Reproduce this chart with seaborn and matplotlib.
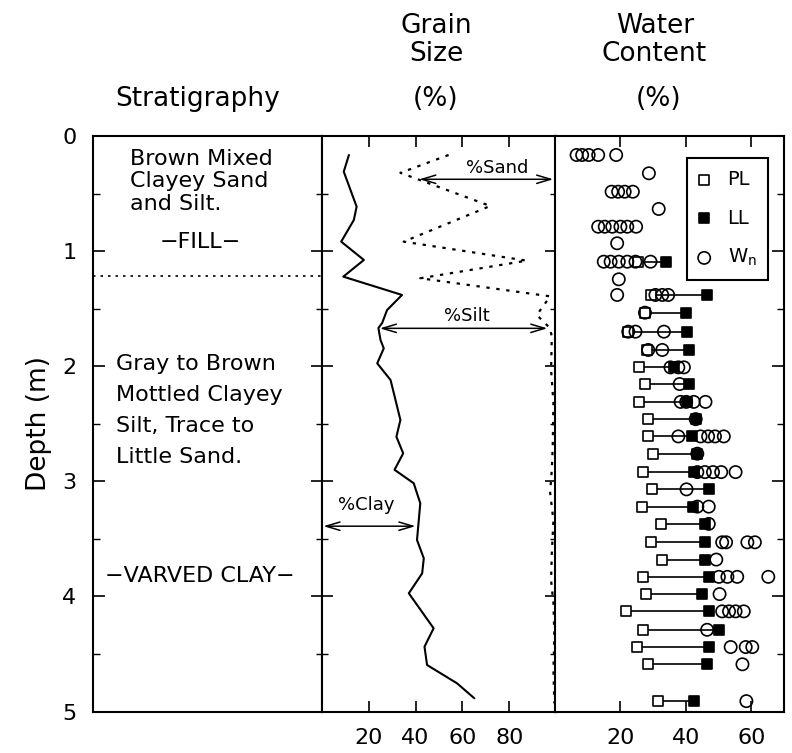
import numpy as np
import pandas as pd
import matplotlib
matplotlib.use("Agg")
import matplotlib.pyplot as plt
import seaborn as sns
from matplotlib.ticker import MultipleLocator

# ---------------- data ----------------
# Grain size: % clay (solid) and cumulative % clay+silt (dotted) versus depth (m)
clay_depth = [0.165, 0.310, 0.614, 0.730, 0.918, 1.077, 1.222, 1.381, 1.512, 1.625,
              1.668, 1.772, 1.845, 1.975, 2.120, 2.235, 2.467, 2.613, 2.757, 2.900,
              3.017, 3.191, 3.510, 3.669, 3.800, 3.973, 4.277, 4.437, 4.596, 4.755, 4.885]
clay_pct = [11.5, 9.3, 14.8, 13.6, 8.2, 17.9, 9.1, 34.2, 27.8, 25.7,
            24.1, 25.0, 26.4, 23.6, 29.3, 30.7, 33.5, 31.8, 34.7, 31.0,
            39.2, 42.0, 40.6, 43.5, 42.8, 37.1, 47.7, 43.8, 44.9, 57.7, 65.1]
claysilt_depth = [0.165, 0.320, 0.608, 0.918, 1.083, 1.236, 1.393, 1.555, 1.671, 1.744,
                  2.030, 2.320, 2.700, 2.900, 3.100, 3.340, 3.630, 3.860, 4.060, 4.350,
                  4.640, 4.930]
claysilt_pct = [54.1, 33.5, 71.9, 34.9, 87.5, 42.0, 97.5, 91.8, 97.5, 98.2,
                97.9, 98.9, 98.6, 98.2, 97.5, 98.9, 98.2, 97.9, 98.9, 99.3,
                98.9, 99.3]

# Atterberg limits (plastic limit PL, liquid limit LL) by depth
limit_depth = [1.092, 1.381, 1.535, 1.700, 1.859, 2.010, 2.155, 2.310, 2.460, 2.610,
               2.760, 2.920, 3.070, 3.220, 3.370, 3.530, 3.680, 3.830, 3.980, 4.130,
               4.290, 4.440, 4.590, 4.910]
pl_pct = [25.5, 29.2, 27.5, 22.4, 28.0, 25.8, 27.5, 25.8, 28.5, 28.5,
          29.9, 27.0, 29.5, 26.5, 32.3, 29.2, 32.6, 26.9, 27.9, 21.6,
          26.9, 25.1, 28.5, 31.6]
ll_pct = [33.8, 46.5, 39.9, 40.4, 40.9, 36.3, 40.9, 40.4, 43.0, 42.0,
          43.5, 42.4, 47.0, 42.2, 45.8, 46.0, 46.0, 47.0, 45.0, 47.0,
          50.1, 47.2, 46.5, 42.4]

# Natural water content Wn
wn_depth = [0.165, 0.165, 0.165, 0.165, 0.165,
            0.324,
            0.484, 0.484, 0.484, 0.484,
            0.634,
            0.788, 0.788, 0.788, 0.788, 0.788, 0.788,
            0.932,
            1.092, 1.092, 1.092, 1.092, 1.092, 1.092,
            1.245,
            1.381, 1.381, 1.381, 1.381,
            1.535,
            1.700, 1.700, 1.700,
            1.859, 1.859,
            2.010, 2.010, 2.010,
            2.155,
            2.310, 2.310, 2.310, 2.310,
            2.460,
            2.610, 2.610, 2.610, 2.610, 2.610,
            2.760,
            2.920, 2.920, 2.920, 2.920, 2.920,
            3.070,
            3.220, 3.220,
            3.370,
            3.530, 3.530, 3.530, 3.530,
            3.680,
            3.830, 3.830, 3.830, 3.830,
            3.980,
            4.130, 4.130, 4.130, 4.130,
            4.290,
            4.440, 4.440, 4.440,
            4.590,
            4.910]
wn_pct = [6.6, 8.3, 10.3, 13.2, 18.7,
          28.7,
          17.3, 19.3, 21.3, 23.8,
          31.7,
          13.2, 15.2, 17.5, 20.0, 22.1, 24.8,
          19.0,
          14.9, 17.0, 19.5, 22.1, 24.6, 29.2,
          19.5,
          19.0, 30.7, 32.8, 34.6,
          27.5,
          22.4, 24.6, 33.3,
          28.5, 32.8,
          35.3, 37.7, 39.4,
          38.1,
          38.4, 40.1, 42.4, 46.0,
          43.0,
          37.7, 44.5, 46.8, 48.9, 51.6,
          43.5,
          43.5, 45.8, 48.3, 50.8, 55.2,
          40.2,
          43.5, 47.0,
          47.0,
          51.1, 52.3, 58.8, 61.1,
          49.3,
          50.1, 52.7, 55.7, 65.2,
          50.3,
          51.1, 53.2, 55.2, 57.7,
          46.5,
          53.7, 58.3, 60.3,
          57.3,
          58.5]

depth_ticks = [0, 1, 2, 3, 4, 5]
grain_ticks = [20, 40, 60, 80]
water_ticks = [20, 40, 60]
fill_boundary_depth = 1.22

# ---------------- style ----------------
sns.set_style("white")
plt.rcParams["font.family"] = ["DejaVu Sans"]
plt.rcParams["mathtext.default"] = "regular"
plt.rcParams["text.color"] = "black"
plt.rcParams["axes.labelcolor"] = "black"
plt.rcParams["axes.edgecolor"] = "black"
plt.rcParams["axes.linewidth"] = 1.5
plt.rcParams["xtick.color"] = "black"
plt.rcParams["ytick.color"] = "black"

W, H = 792, 753
fig = plt.figure(figsize=(W / 100, H / 100), dpi=100)
bot = (H - 711.5) / H
hgt = (711.5 - 136) / H
ax_s = fig.add_axes([93 / W, bot, 229 / W, hgt])
ax_g = fig.add_axes([322 / W, bot, 234 / W, hgt])
ax_w = fig.add_axes([555 / W, bot, 229 / W, hgt])

for ax in (ax_s, ax_g, ax_w):
    ax.set_facecolor("white")
    for sp in ax.spines.values():
        sp.set_visible(True)
        sp.set_color("black")
        sp.set_linewidth(1.5)
    ax.set_ylim(5, 0)
    ax.set_yticks(depth_ticks)
    ax.yaxis.set_minor_locator(MultipleLocator(0.5))

# ---------------- stratigraphy panel ----------------
ax_s.set_xlim(0, 1)
ax_s.set_xticks([])
ax_s.tick_params(axis="y", which="major", direction="in", length=8.5, width=1.2,
                 left=True, right=False, labelsize=16, pad=12, labelcolor="black")
ax_s.tick_params(axis="y", which="minor", direction="in", length=5, width=1.0,
                 left=True, right=False)
ax_s.set_ylabel("Depth (m)", fontsize=19, color="black")
ax_s.yaxis.set_label_coords(-0.18, 0.5)

ax_s.axhline(fill_boundary_depth, color="black", lw=1.2, ls=(0, (1.5, 3)))
strat_fs = 16
ax_s.text(0.161, 0.252, "Brown Mixed", fontsize=strat_fs, va="baseline", ha="left")
ax_s.text(0.161, 0.443, "Clayey Sand", fontsize=strat_fs, va="baseline", ha="left")
ax_s.text(0.161, 0.643, "and Silt.", fontsize=strat_fs, va="baseline", ha="left")
ax_s.text(0.47, 0.973, "\u2212FILL\u2212", fontsize=strat_fs, va="baseline", ha="center")
ax_s.text(0.10, 2.033, "Gray to Brown", fontsize=strat_fs, va="baseline", ha="left")
ax_s.text(0.10, 2.302, "Mottled Clayey", fontsize=strat_fs, va="baseline", ha="left")
ax_s.text(0.10, 2.571, "Silt, Trace to", fontsize=strat_fs, va="baseline", ha="left")
ax_s.text(0.10, 2.841, "Little Sand.", fontsize=strat_fs, va="baseline", ha="left")
ax_s.text(0.465, 3.875, "\u2212VARVED CLAY\u2212", fontsize=strat_fs, va="baseline", ha="center")

# ---------------- grain size panel ----------------
sns.lineplot(x=clay_pct, y=clay_depth, ax=ax_g, sort=False, estimator=None,
             color="black", lw=1.5)
sns.lineplot(x=claysilt_pct, y=claysilt_depth, ax=ax_g, sort=False, estimator=None,
             color="black", lw=1.6, ls=(0, (1.5, 3)))
ax_g.set_xlim(0, 100)
ax_g.set_ylim(5, 0)
ax_g.set_xticks(grain_ticks)
ax_g.set_xlabel("")
ax_g.set_ylabel("")
ax_g.tick_params(axis="x", which="major", direction="in", length=8, width=1.2,
                 top=True, bottom=True, labeltop=False, labelbottom=True,
                 labelsize=16, pad=12, labelcolor="black")
ax_g.tick_params(axis="y", which="major", direction="inout", length=16, width=1.2,
                 left=True, right=True, labelleft=False, labelright=False)
ax_g.tick_params(axis="y", which="minor", direction="inout", length=9, width=1.0,
                 left=True, right=True)

arrow_kw = dict(arrowstyle="<->,head_length=0.5,head_width=0.15", lw=1.1,
                color="black", shrinkA=2, shrinkB=1, mutation_scale=20)
sand_d, silt_d, clay_d = 0.376, 1.671, 3.39
sand_x0 = np.interp(sand_d, claysilt_depth, claysilt_pct)
ax_g.annotate("", xy=(sand_x0, sand_d), xytext=(100, sand_d), arrowprops=arrow_kw)
ax_g.annotate("", xy=(np.interp(silt_d, clay_depth, clay_pct), silt_d),
              xytext=(np.interp(silt_d, claysilt_depth, claysilt_pct), silt_d),
              arrowprops=arrow_kw)
ax_g.annotate("", xy=(0, clay_d), xytext=(np.interp(clay_d, clay_depth, clay_pct), clay_d),
              arrowprops=arrow_kw)
ax_g.text(74.8, 0.28, "%Sand", fontsize=13, ha="center", va="center")
ax_g.text(62.0, 1.56, "%Silt", fontsize=13, ha="center", va="center")
ax_g.text(18.8, 3.21, "%Clay", fontsize=13, ha="center", va="center")

# ---------------- water content panel ----------------
ax_w.hlines(limit_depth, pl_pct, ll_pct, color="black", lw=1.2, zorder=2)
sns.scatterplot(x=pl_pct, y=limit_depth, ax=ax_w, marker="s", s=50,
                facecolor="white", edgecolor="black", linewidth=1.2,
                label="PL", zorder=3)
sns.scatterplot(x=ll_pct, y=limit_depth, ax=ax_w, marker="s", s=50,
                facecolor="black", edgecolor="black", linewidth=1.2,
                label="LL", zorder=3)
sns.scatterplot(x=wn_pct, y=wn_depth, ax=ax_w, marker="o", s=78,
                facecolor="none", edgecolor="black", linewidth=1.2,
                label="W$_{n}$", zorder=4)
ax_w.set_xlim(0, 70)
ax_w.set_ylim(5, 0)
ax_w.set_xticks(water_ticks)
ax_w.set_xlabel("")
ax_w.set_ylabel("")
ax_w.tick_params(axis="x", which="major", direction="in", length=8, width=1.2,
                 top=True, bottom=True, labeltop=False, labelbottom=True,
                 labelsize=16, pad=12, labelcolor="black")
ax_w.tick_params(axis="y", which="major", direction="in", length=8.5, width=1.2,
                 left=False, right=True, labelleft=False, labelright=False)
ax_w.tick_params(axis="y", which="minor", direction="in", length=5, width=1.0,
                 left=False, right=True)

handles, labels = ax_w.get_legend_handles_labels()
leg = ax_w.legend(handles, labels, loc="upper right", bbox_to_anchor=(0.931, 0.961),
                  borderaxespad=0, frameon=True, fancybox=False, edgecolor="black",
                  framealpha=1, fontsize=14, handletextpad=0.9, labelspacing=1.0,
                  borderpad=0.6, handlelength=0.6, scatterpoints=1)
leg.get_frame().set_linewidth(1.5)

# ---------------- column titles ----------------
tfs = 19
fig.text(436 / W, 1 - 33 / H, "Grain", fontsize=tfs, ha="center", va="baseline")
fig.text(436 / W, 1 - 61 / H, "Size", fontsize=tfs, ha="center", va="baseline")
fig.text(436 / W, 1 - 106 / H, "(%)", fontsize=tfs, ha="center", va="baseline")
fig.text(655 / W, 1 - 33 / H, "Water", fontsize=tfs, ha="center", va="baseline")
fig.text(654 / W, 1 - 61 / H, "Content", fontsize=tfs, ha="center", va="baseline")
fig.text(659 / W, 1 - 106 / H, "(%)", fontsize=tfs, ha="center", va="baseline")
fig.text(198 / W, 1 - 106 / H, "Stratigraphy", fontsize=tfs, ha="center", va="baseline")

fig.savefig("out.png", dpi=100)
